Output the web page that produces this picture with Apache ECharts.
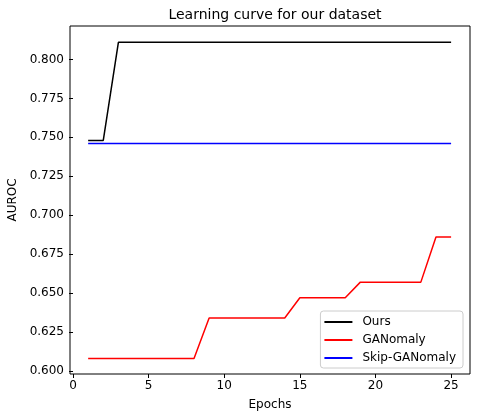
<!DOCTYPE html>
<html>
<head>
<meta charset="utf-8">
<script src="https://cdn.jsdelivr.net/npm/echarts@6/dist/echarts.min.js"></script>
<style>
  html, body { margin: 0; padding: 0; background: #fff; }
  #chart { width: 480px; height: 418px; }
</style>
</head>
<body>
<div id="chart"></div>
<script>
  // epochs 1..25
  const epochs = [1, 2, 3, 4, 5, 6, 7, 8, 9, 10, 11, 12, 13, 14, 15, 16, 17, 18, 19, 20, 21, 22, 23, 24, 25];
  const ours = [0.748, 0.748, 0.811, 0.811, 0.811, 0.811, 0.811, 0.811, 0.811, 0.811, 0.811, 0.811, 0.811,
    0.811, 0.811, 0.811, 0.811, 0.811, 0.811, 0.811, 0.811, 0.811, 0.811, 0.811, 0.811];
  const ganomaly = [0.608, 0.608, 0.608, 0.608, 0.608, 0.608, 0.608, 0.608, 0.634, 0.634, 0.634, 0.634, 0.634,
    0.634, 0.647, 0.647, 0.647, 0.647, 0.657, 0.657, 0.657, 0.657, 0.657, 0.686, 0.686];
  const skipGanomaly = [0.746, 0.746, 0.746, 0.746, 0.746, 0.746, 0.746, 0.746, 0.746, 0.746, 0.746, 0.746, 0.746,
    0.746, 0.746, 0.746, 0.746, 0.746, 0.746, 0.746, 0.746, 0.746, 0.746, 0.746, 0.746];
  const xTicks = [0, 5, 10, 15, 20, 25];
  const yTicks = [0.600, 0.625, 0.650, 0.675, 0.700, 0.725, 0.750, 0.775, 0.800];

  const font = 'DejaVu Sans';
  const chart = echarts.init(document.getElementById('chart'));

  const pairs = arr => epochs.map((e, i) => [e, arr[i]]);
  const lineSeries = (name, arr, color) => ({
    name: name,
    type: 'line',
    data: pairs(arr),
    showSymbol: false,
    symbol: 'none',
    animation: false,
    lineStyle: { color: color, width: 1.5 },
    itemStyle: { color: color }
  });

  const option = {
    animation: false,
    textStyle: { fontFamily: font },
    title: {
      text: 'Learning curve for our dataset',
      left: 270,
      textAlign: 'center',
      top: 3,
      textStyle: { fontFamily: font, fontSize: 14, fontWeight: 'normal', color: '#000' }
    },
    grid: {
      left: 70, right: 10, top: 26, bottom: 44,
      outerBoundsMode: 'none',
      containLabel: false,
      show: true, borderColor: '#000', borderWidth: 1, backgroundColor: '#fff'
    },
    legend: {
      orient: 'vertical',
      right: 17,
      bottom: 50,
      padding: [5, 7, 4, 4],
      itemGap: 6,
      itemWidth: 28,
      itemHeight: 2,
      icon: 'rect',
      backgroundColor: '#fff',
      borderColor: '#ccc',
      borderWidth: 1,
      borderRadius: 3,
      textStyle: { fontFamily: font, fontSize: 12, color: '#000', padding: [0, 0, 0, 5] },
      data: ['Ours', 'GANomaly', 'Skip-GANomaly']
    },
    xAxis: {
      type: 'value',
      min: -0.2,
      max: 26.25,
      name: 'Epochs',
      nameLocation: 'middle',
      nameGap: 25,
      nameTextStyle: { fontFamily: font, fontSize: 12, color: '#000' },
      axisLine: { show: false },
      axisTick: { show: true, length: 4, inside: false, customValues: xTicks, lineStyle: { color: '#000' } },
      axisLabel: { customValues: xTicks, fontFamily: font, fontSize: 12, color: '#000', margin: 6 },
      splitLine: { show: false }
    },
    yAxis: {
      type: 'value',
      min: 0.598,
      max: 0.8215,
      name: 'AUROC',
      nameLocation: 'middle',
      nameGap: 51,
      nameRotate: 90,
      nameTextStyle: { fontFamily: font, fontSize: 12, color: '#000' },
      axisLine: { show: false },
      axisTick: { show: true, length: 4, inside: false, customValues: yTicks, lineStyle: { color: '#000' } },
      axisLabel: {
        customValues: yTicks, fontFamily: font, fontSize: 12, color: '#000', margin: 6,
        formatter: v => v.toFixed(3)
      },
      splitLine: { show: false }
    },
    series: [
      lineSeries('Ours', ours, '#000000'),
      lineSeries('GANomaly', ganomaly, '#ff0000'),
      lineSeries('Skip-GANomaly', skipGanomaly, '#0000ff')
    ]
  };

  chart.setOption(option);
</script>
</body>
</html>
